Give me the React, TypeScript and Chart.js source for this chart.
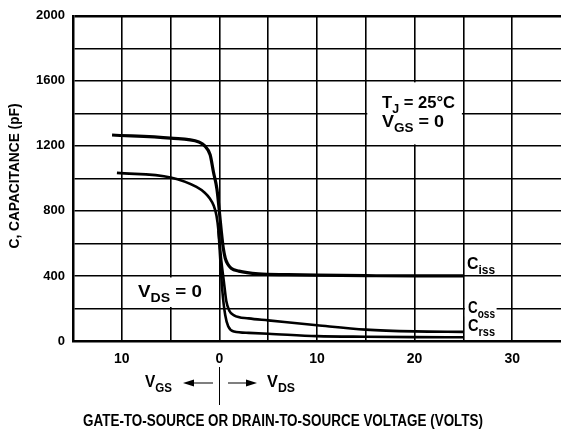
import React, { useEffect, useRef } from "react";
import { Chart, registerables } from "chart.js";

Chart.register(...registerables);

// ---- Data (x < 0 : V_GS side, x > 0 : V_DS side) ----
const cissX = [-11, -5, -2.1, -1.5, -0.95, -0.6, -0.25, 0, 0.2, 0.4, 0.6, 0.85, 1.2, 2, 4, 7, 10, 15, 20, 25];
const cissY = [1267, 1248, 1224, 1200, 1145, 1036, 933, 794, 673, 570, 509, 473, 448, 430, 413, 408, 405, 402, 400, 400];

const crssX = [-10.5, -5, -2.35, -1.5, -1.0, -0.6, -0.3, -0.1, 0.1, 0.3, 0.6, 0.9, 1.5, 3, 5, 10, 15, 20, 25];
const crssY = [1034, 1006, 948, 912, 878, 835, 772, 680, 491, 309, 158, 91, 58, 50, 45, 30, 26, 24, 23];

const cossX = [-0.1, 0.2, 0.45, 0.7, 1.0, 1.5, 3, 5, 10, 15, 20, 25];
const cossY = [680, 491, 370, 248, 188, 158, 139, 127, 97, 70, 59, 56];

const xTickLabels = [-10, 0, 10, 20, 30];
const yTickLabels = [0, 400, 800, 1200, 1600, 2000];

const FONT = "'Liberation Sans', Arial, sans-serif";

type Part = { t: string; sub?: boolean };

function drawRich(
  ctx: CanvasRenderingContext2D,
  parts: Part[],
  x: number,
  y: number,
  size: number,
  width: number,
  weight = "bold"
) {
  let natural = 0;
  const widths: number[] = [];
  for (const p of parts) {
    ctx.font = `${weight} ${p.sub ? Math.round(size * 0.78) : size}px ${FONT}`;
    const w = ctx.measureText(p.t).width;
    widths.push(w);
    natural += w;
  }
  const sx = width / natural;
  ctx.save();
  ctx.translate(x, y);
  ctx.scale(sx, 1);
  let cx = 0;
  parts.forEach((p, i) => {
    ctx.font = `${weight} ${p.sub ? Math.round(size * 0.78) : size}px ${FONT}`;
    ctx.fillText(p.t, cx, p.sub ? size * 0.3 : 0);
    cx += widths[i];
  });
  ctx.restore();
}

const extras = {
  id: "extras",
  beforeDatasetsDraw(chart: any) {
    const { ctx, scales } = chart;
    const xs = scales.x;
    const ys = scales.y;
    ctx.save();
    ctx.fillStyle = "#fff";
    // box behind T_J / V_GS note
    const bx1 = xs.getPixelForValue(15) + 1.5;
    const bx2 = xs.getPixelForValue(25) - 1.5;
    const by1 = ys.getPixelForValue(1600) + 1.5;
    const by2 = ys.getPixelForValue(1200) - 1.5;
    ctx.fillRect(bx1, by1, bx2 - bx1, by2 - by1);
    // box behind V_DS = 0
    const vx1 = xs.getPixelForValue(-8.6);
    const vx2 = xs.getPixelForValue(-1.6);
    const vy1 = ys.getPixelForValue(400) + 1.5;
    const vy2 = ys.getPixelForValue(200) - 1.5;
    ctx.fillRect(vx1, vy1, vx2 - vx1, vy2 - vy1);
    // box behind Coss label
    const cx1 = xs.getPixelForValue(25) + 1.5;
    const cx2 = xs.getPixelForValue(28.4);
    const cy1 = ys.getPixelForValue(255);
    const cy2 = ys.getPixelForValue(150);
    ctx.fillRect(cx1, cy1, cx2 - cx1, cy2 - cy1);
    ctx.restore();
  },
  afterDraw(chart: any) {
    const { ctx } = chart;
    ctx.save();
    ctx.fillStyle = "#000";
    ctx.strokeStyle = "#000";
    ctx.textBaseline = "alphabetic";

    // notes
    drawRich(ctx, [{ t: "T" }, { t: "J", sub: true }, { t: " = 25°C" }], 382, 108, 16, 73);
    drawRich(ctx, [{ t: "V" }, { t: "GS", sub: true }, { t: " = 0" }], 382, 127, 16, 62);
    drawRich(ctx, [{ t: "V" }, { t: "DS", sub: true }, { t: " = 0" }], 138, 297, 16, 64);

    // curve labels
    drawRich(ctx, [{ t: "C" }, { t: "iss", sub: true }], 467, 269, 16, 28);
    drawRich(ctx, [{ t: "C" }, { t: "oss", sub: true }], 468, 313, 16, 27);
    drawRich(ctx, [{ t: "C" }, { t: "rss", sub: true }], 468, 331, 16, 27);

    // V_GS <-- | --> V_DS
    drawRich(ctx, [{ t: "V" }, { t: "GS", sub: true }], 145, 387, 16, 27);
    drawRich(ctx, [{ t: "V" }, { t: "DS", sub: true }], 267, 387, 16, 28);
    ctx.lineWidth = 1.2;
    ctx.beginPath();
    ctx.moveTo(213, 383);
    ctx.lineTo(190, 383);
    ctx.moveTo(228, 383);
    ctx.lineTo(250, 383);
    ctx.stroke();
    ctx.beginPath();
    ctx.moveTo(183, 383);
    ctx.lineTo(194, 379.5);
    ctx.lineTo(194, 386.5);
    ctx.closePath();
    ctx.fill();
    ctx.beginPath();
    ctx.moveTo(257, 383);
    ctx.lineTo(246, 379.5);
    ctx.lineTo(246, 386.5);
    ctx.closePath();
    ctx.fill();
    ctx.lineWidth = 1;
    ctx.beginPath();
    ctx.moveTo(219.5, 367);
    ctx.lineTo(219.5, 405);
    ctx.stroke();

    // x title
    drawRich(ctx, [{ t: "GATE-TO-SOURCE OR DRAIN-TO-SOURCE VOLTAGE (VOLTS)" }], 83, 426, 16, 400);

    // y title (rotated)
    ctx.save();
    ctx.translate(19, 176);
    ctx.rotate(-Math.PI / 2);
    drawRich(ctx, [{ t: "C, CAPACITANCE (pF)" }], -72.5, 0, 14, 145);
    ctx.restore();

    ctx.restore();
  },
};

function pts(xs: number[], ys: number[]) {
  return xs.map((x, i) => ({ x, y: ys[i] }));
}

export default function App() {
  const ref = useRef<HTMLCanvasElement | null>(null);
  useEffect(() => {
    if (!ref.current) return;
    const common = {
      borderColor: "#000",
      pointRadius: 0,
      fill: false,
      cubicInterpolationMode: "monotone" as const,
    };
    const chart = new Chart(ref.current, {
      type: "line",
      data: {
        datasets: [
          { ...common, label: "Ciss", data: pts(cissX, cissY), borderWidth: 3.2 },
          { ...common, label: "Coss", data: pts(cossX, cossY), borderWidth: 2.6 },
          { ...common, label: "Crss", data: pts(crssX, crssY), borderWidth: 2.6 },
        ],
      },
      options: {
        responsive: false,
        animation: false,
        events: [],
        layout: { padding: { top: 12, right: 0, left: 0, bottom: 0 } },
        plugins: { legend: { display: false }, tooltip: { enabled: false } },
        scales: {
          x: {
            type: "linear",
            min: -15,
            max: 35,
            afterFit: (s: any) => {
              s.height = 94;
              s.paddingLeft = 0;
              s.paddingRight = 0;
            },
            ticks: {
              stepSize: 5,
              autoSkip: false,
              maxRotation: 0,
              padding: 10,
              color: "#000",
              font: { family: FONT, size: 14, weight: "bold" },
              callback: (v: any) => (xTickLabels.includes(Number(v)) ? String(Math.abs(Number(v))) : ""),
            },
            grid: {
              color: (c: any) => (c.tick && c.tick.value === 35 ? "rgba(0,0,0,0)" : "#000"),
              lineWidth: 1.6,
              drawTicks: false,
            },
            border: { color: "#000", width: 2.5 },
          },
          y: {
            type: "linear",
            min: 0,
            max: 2000,
            afterFit: (s: any) => {
              s.width = 73;
            },
            ticks: {
              stepSize: 200,
              autoSkip: false,
              padding: 8,
              color: "#000",
              font: { family: FONT, size: 13, weight: "bold" },
              callback: (v: any) => (yTickLabels.includes(Number(v)) ? String(v) : ""),
            },
            grid: {
              color: "#000",
              lineWidth: (c: any) => (c.tick && c.tick.value === 2000 ? 2.5 : 1.6),
              drawTicks: false,
            },
            border: { color: "#000", width: 2.5 },
          },
        },
      },
      plugins: [extras],
    });
    return () => chart.destroy();
  }, []);
  return (
    <div style={{ position: "fixed", left: 0, top: 0, width: 561, height: 435, background: "#fff" }}>
      <canvas ref={ref} width={561} height={435} style={{ display: "block" }} />
    </div>
  );
}
